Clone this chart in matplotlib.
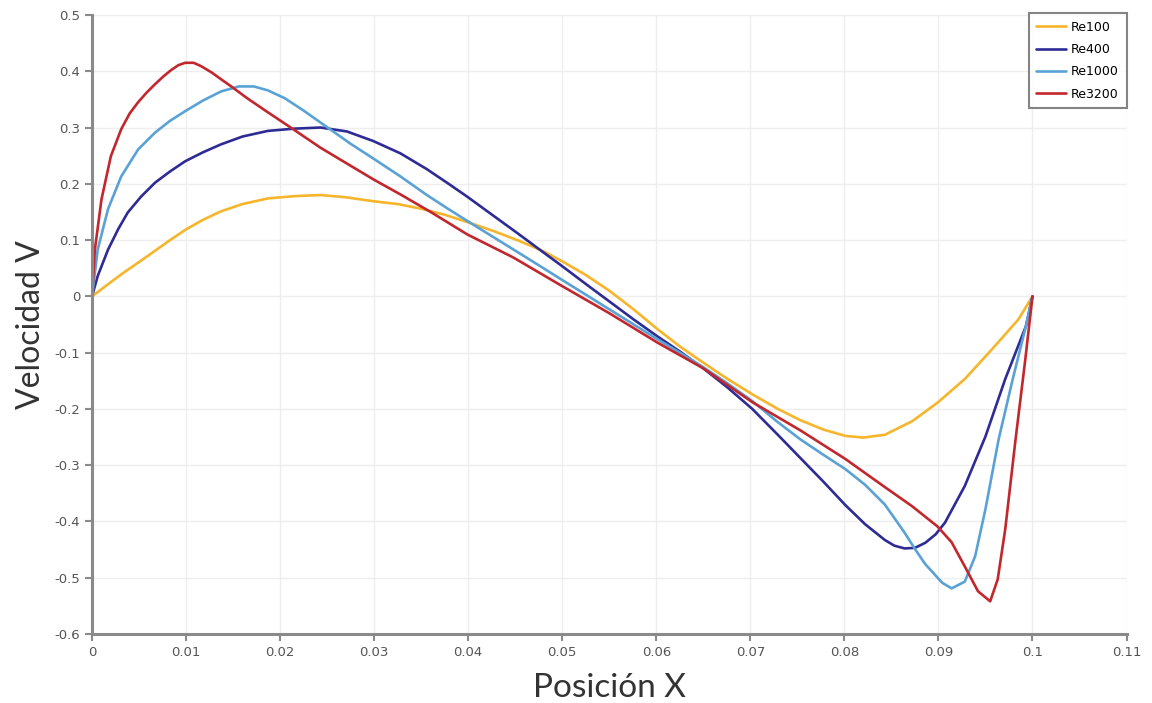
import matplotlib
matplotlib.use("Agg")
import matplotlib.pyplot as plt

# Values
x_re100 = [0.0, 0.0015, 0.0031, 0.0050, 0.0067, 0.0083, 0.0099, 0.0118, 0.0137, 0.0160,
           0.0187, 0.0215, 0.0243, 0.0270, 0.0299, 0.0325, 0.0349, 0.0375, 0.0399,
           0.0427, 0.0455, 0.0480, 0.0498, 0.0525, 0.0550, 0.0575, 0.0601, 0.0625,
           0.0650, 0.0675, 0.0702, 0.0728, 0.0753, 0.0778, 0.0801, 0.0820, 0.0843,
           0.0872, 0.0899, 0.0928, 0.0957, 0.0985, 0.1]
y_re100 = [0.0, 0.019, 0.039, 0.061, 0.081, 0.100, 0.118, 0.136, 0.151, 0.164,
           0.174, 0.178, 0.180, 0.176, 0.169, 0.164, 0.156, 0.145, 0.132,
           0.116, 0.098, 0.080, 0.064, 0.038, 0.010, -0.022, -0.058, -0.089,
           -0.118, -0.146, -0.174, -0.199, -0.220, -0.237, -0.248, -0.251, -0.246,
           -0.222, -0.189, -0.147, -0.094, -0.041, 0.0]

x_re400 = [0.0, 0.0006, 0.0017, 0.0028, 0.0038, 0.0052, 0.0067, 0.0083, 0.0099, 0.0118,
           0.0137, 0.0160, 0.0187, 0.0215, 0.0243, 0.0271, 0.0299, 0.0328, 0.0356,
           0.0380, 0.0399, 0.0427, 0.0455, 0.0480, 0.0498, 0.0525, 0.0550, 0.0575,
           0.0601, 0.0625, 0.0650, 0.0675, 0.0702, 0.0728, 0.0753, 0.0778, 0.0801,
           0.0822, 0.0843, 0.0853, 0.0864, 0.0875, 0.0886, 0.0897, 0.0907, 0.0928,
           0.0950, 0.0971, 0.0993, 0.1]
y_re400 = [0.0, 0.036, 0.083, 0.120, 0.149, 0.177, 0.202, 0.222, 0.240, 0.256,
           0.270, 0.284, 0.294, 0.298, 0.300, 0.293, 0.276, 0.254, 0.226,
           0.199, 0.177, 0.143, 0.109, 0.078, 0.056, 0.022, -0.009, -0.040,
           -0.071, -0.098, -0.128, -0.161, -0.200, -0.244, -0.287, -0.330, -0.371,
           -0.405, -0.433, -0.443, -0.448, -0.447, -0.438, -0.423, -0.402, -0.337,
           -0.249, -0.147, -0.053, 0.0]

x_re1000 = [0.0, 0.0006, 0.0017, 0.0031, 0.0049, 0.0067, 0.0083, 0.0099, 0.0118, 0.0137,
            0.0156, 0.0172, 0.0187, 0.0205, 0.0225, 0.0253, 0.0275, 0.0299, 0.0328,
            0.0356, 0.0380, 0.0399, 0.0427, 0.0455, 0.0480, 0.0498, 0.0525, 0.0550,
            0.0575, 0.0601, 0.0625, 0.0650, 0.0675, 0.0702, 0.0728, 0.0753, 0.0778,
            0.0801, 0.0822, 0.0843, 0.0864, 0.0875, 0.0886, 0.0904, 0.0914, 0.0928,
            0.0939, 0.0950, 0.0964, 0.0979, 0.0993, 0.1]
y_re1000 = [0.0, 0.083, 0.155, 0.213, 0.261, 0.291, 0.312, 0.329, 0.348, 0.364,
            0.373, 0.373, 0.366, 0.352, 0.330, 0.297, 0.271, 0.245, 0.213,
            0.180, 0.154, 0.134, 0.105, 0.076, 0.050, 0.031, 0.003, -0.023,
            -0.049, -0.076, -0.100, -0.126, -0.154, -0.186, -0.222, -0.254, -0.282,
            -0.307, -0.335, -0.370, -0.420, -0.449, -0.476, -0.509, -0.519, -0.507,
            -0.462, -0.378, -0.254, -0.147, -0.053, 0.0]

x_re3200 = [0.0, 0.0003, 0.0010, 0.0020, 0.0031, 0.0040, 0.0049, 0.0058, 0.0067, 0.0076,
            0.0084, 0.0092, 0.0099, 0.0108, 0.0116, 0.0127, 0.0137, 0.0148, 0.0165,
            0.0187, 0.0213, 0.0243, 0.0270, 0.0299, 0.0328, 0.0360, 0.0399, 0.0448,
            0.0498, 0.0550, 0.0601, 0.0650, 0.0702, 0.0753, 0.0801, 0.0843, 0.0872,
            0.0899, 0.0914, 0.0928, 0.0942, 0.0955, 0.0963, 0.0971, 0.0982, 0.0992, 0.1]
y_re3200 = [0.0, 0.083, 0.172, 0.249, 0.297, 0.325, 0.345, 0.362, 0.377, 0.391,
            0.402, 0.411, 0.415, 0.415, 0.409, 0.398, 0.386, 0.373, 0.352,
            0.327, 0.298, 0.264, 0.237, 0.208, 0.181, 0.150, 0.110, 0.069,
            0.020, -0.030, -0.082, -0.128, -0.188, -0.238, -0.289, -0.339, -0.373,
            -0.409, -0.437, -0.480, -0.524, -0.542, -0.503, -0.414, -0.254, -0.117, 0.0]

series = [
    ("Re100", x_re100, y_re100, "#F7B52C"),
    ("Re400", x_re400, y_re400, "#2E2B95"),
    ("Re1000", x_re1000, y_re1000, "#5AA2D6"),
    ("Re3200", x_re3200, y_re3200, "#C1272D"),
]

x_ticks = [0, 0.01, 0.02, 0.03, 0.04, 0.05, 0.06, 0.07, 0.08, 0.09, 0.1, 0.11]
x_tick_labels = ["0", "0.01", "0.02", "0.03", "0.04", "0.05", "0.06", "0.07",
                 "0.08", "0.09", "0.1", "0.11"]
y_ticks = [-0.6, -0.5, -0.4, -0.3, -0.2, -0.1, 0, 0.1, 0.2, 0.3, 0.4, 0.5]
y_tick_labels = ["-0.6", "-0.5", "-0.4", "-0.3", "-0.2", "-0.1", "0",
                 "0.1", "0.2", "0.3", "0.4", "0.5"]

fig = plt.figure(figsize=(11.52, 7.03), dpi=100)
ax = fig.add_axes([0.0799, 0.0982, 0.898, 0.8805])

for name, xs, ys, color in series:
    ax.plot(xs, ys, color=color, linewidth=1.9, label=name,
            solid_joinstyle="round", solid_capstyle="round")

ax.set_xlim(0, 0.11)
ax.set_ylim(-0.6, 0.5)
ax.set_xticks(x_ticks)
ax.set_xticklabels(x_tick_labels)
ax.set_yticks(y_ticks)
ax.set_yticklabels(y_tick_labels)

ax.grid(True, color="#EEEEEE", linewidth=1.0)
ax.set_axisbelow(True)
for side in ("top", "right"):
    ax.spines[side].set_visible(False)
for side in ("left", "bottom"):
    ax.spines[side].set_color("#8A8A8A")
    ax.spines[side].set_linewidth(2.2)
ax.tick_params(direction="out", length=5, width=1.5, color="#8A8A8A",
               labelcolor="#555555", labelsize=9.5)

ax.set_xlabel("Posición X", fontsize=24, color="#333333", family="Lato", labelpad=10)
ax.set_ylabel("Velocidad V", fontsize=23, color="#333333", family="Lato", labelpad=6)

leg = ax.legend(loc="upper right", bbox_to_anchor=(1.0, 1.003), borderaxespad=0.0,
                fontsize=9, handlelength=2.4, handletextpad=0.4, labelspacing=0.75,
                frameon=True, fancybox=False, borderpad=0.6)
leg.get_frame().set_edgecolor("#666666")
leg.get_frame().set_linewidth(1.5)

fig.savefig("out.png", dpi=100)
